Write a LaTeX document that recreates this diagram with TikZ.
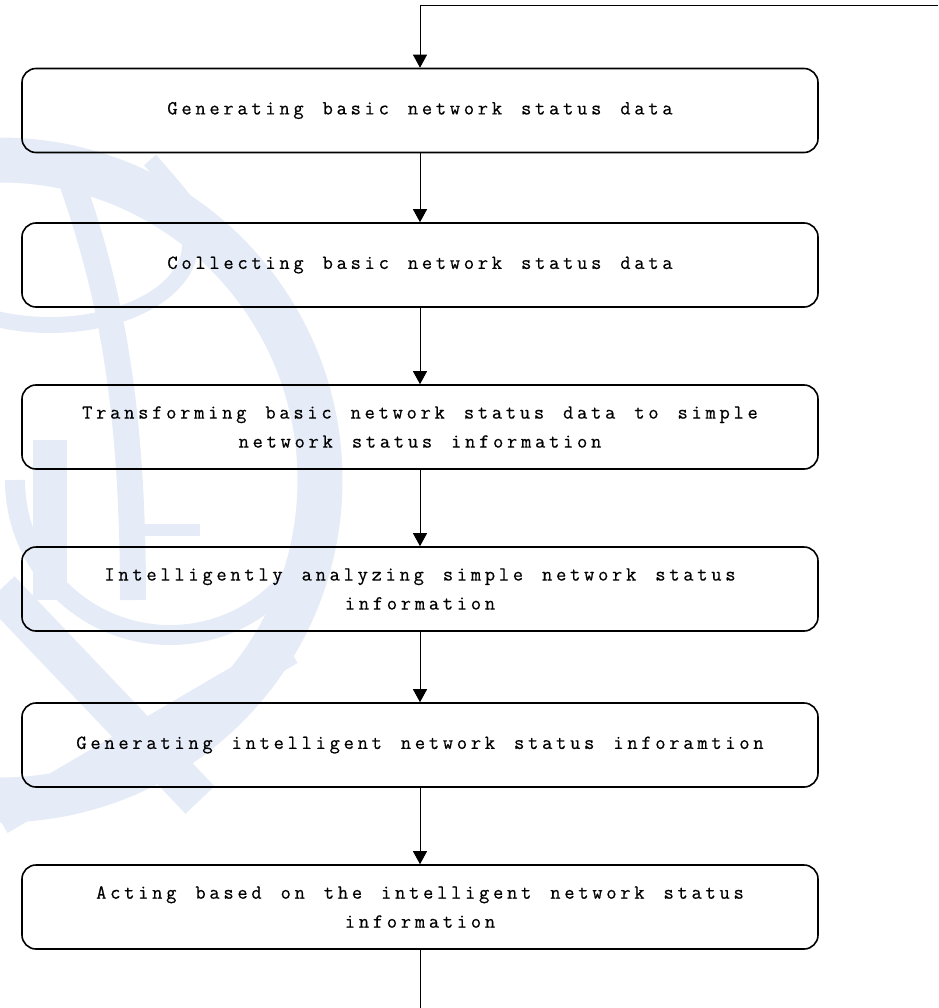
\documentclass[tikz,border=0pt]{standalone}
\usepackage{fontspec}
\usetikzlibrary{arrows.meta,positioning}
\newfontfamily\boxfont[LetterSpace=18.5,WordSpace=1.352,FakeBold=0.5]{Latin Modern Mono}
\definecolor{wmblue}{RGB}{229,236,247}
\tikzset{
	stage/.style={draw,rounded corners=14pt,line width=1.6pt,minimum width=796pt,minimum height=84pt,
		align=center,font=\boxfont\fontsize{20}{29}\selectfont,inner sep=0pt},
	flow/.style={line width=0.9pt,-{Triangle[width=14pt,length=13pt]}},
	wm/.style={draw=wmblue,line cap=butt}
}
\begin{document}
\begin{tikzpicture}[x=1pt,y=-1pt]
	\useasboundingbox (0,0) rectangle (938,1008);

	% watermark
	\draw[wm,line width=45pt] (0,480) ++(-90:320) arc (-90:90:320);
	\draw[wm,line width=16pt] (50,245) ellipse (140 and 80);
	\draw[wm,line width=26pt] (60,150) .. controls (110,280) and (133,400) .. (133,600);
	\draw[wm,line width=16pt] (150,160) .. controls (230,250) and (280,330) .. (300,420);
	\draw[wm,line width=20pt] (325,480) arc (0:180:155);
	\draw[wm,line width=34pt] (50,440) -- (50,600);
	\draw[wm,line width=12pt] (120,530) -- (200,530);
	\draw[wm,line width=40pt] (0,590) -- (200,800);
	\draw[wm,line width=30pt] (0,820) -- (290,650);

	\node[stage] (s1) at (420,110.5) {Generating basic network status data};
	\node[stage] (s2) at (420,265) {Collecting basic network status data};
	\node[stage] (s3) at (420,427) {Transforming basic network status data to simple\\network status information};
	\node[stage] (s4) at (420,589) {Intelligently analyzing simple network status\\information};
	\node[stage] (s5) at (420,745) {Generating intelligent network status inforamtion};
	\node[stage] (s6) at (420,907) {Acting based on the intelligent network status\\information};

	\coordinate (back) at (938,5);
	\coordinate (out) at (420,1008);

	\draw[flow] (back) -| (s1);
	\draw[flow] (s1) -- (s2);
	\draw[flow] (s2) -- (s3);
	\draw[flow] (s3) -- (s4);
	\draw[flow] (s4) -- (s5);
	\draw[flow] (s5) -- (s6);
	\draw[line width=0.9pt] (s6) -- (out);
\end{tikzpicture}
\end{document}
